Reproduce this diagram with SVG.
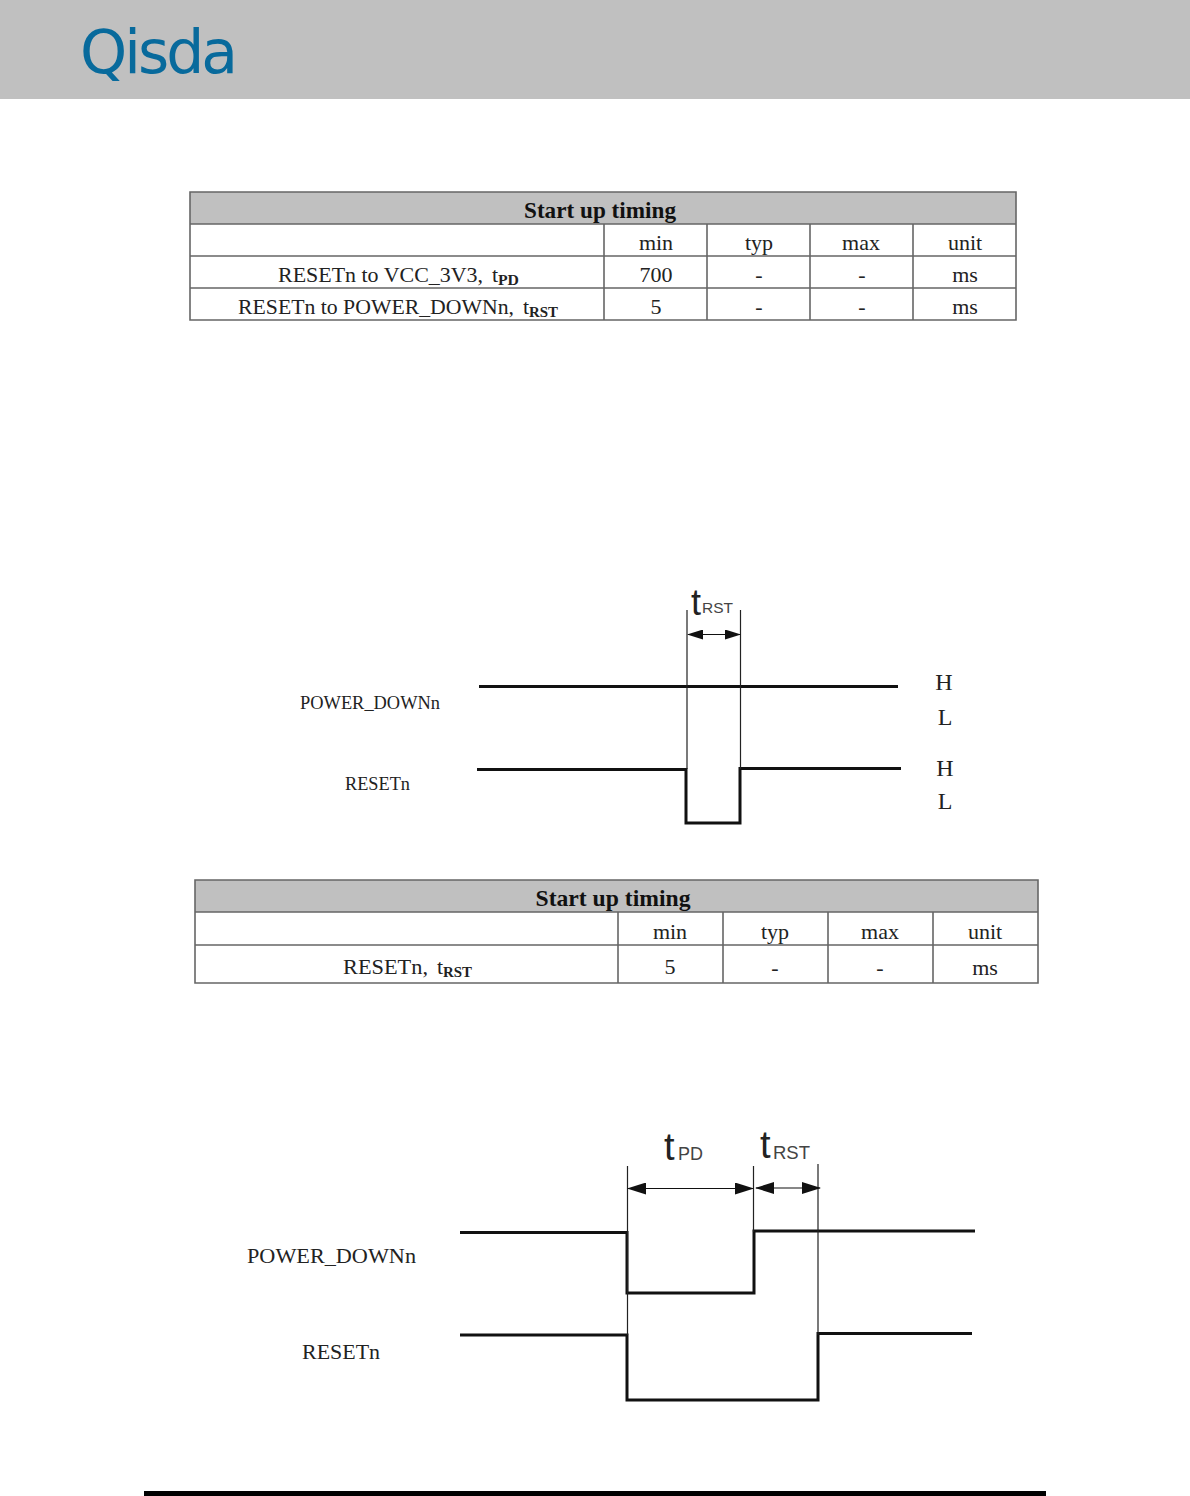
<svg xmlns="http://www.w3.org/2000/svg" width="1190" height="1496" viewBox="0 0 1190 1496">
<style>
text{font-family:"Liberation Serif",serif;fill:#222}
.c{text-anchor:middle}
.t{font-size:22px}
.hd{font-size:23px;font-weight:bold;fill:#111}
.sub{font-size:14px;font-weight:bold}
.sig{font-size:19px}
.hl{font-size:24px;text-anchor:middle}
.grid{fill:none;stroke:#666;stroke-width:1.6}
.head{fill:#c0c0c0}
.wave{fill:none;stroke:#111;stroke-width:3}
.thin{fill:none;stroke:#222;stroke-width:1.2}
.dim{fill:none;stroke:#111;stroke-width:1.2;marker-start:url(#a);marker-end:url(#a)}
.dim2{fill:none;stroke:#111;stroke-width:1.2;marker-start:url(#b);marker-end:url(#b)}
.tm{font-family:"Liberation Sans",sans-serif;font-size:36px;fill:#222}
.tm2{font-family:"Liberation Sans",sans-serif;font-size:15px;fill:#444}
</style>
<defs>
<marker id="a" viewBox="0 0 16 10" refX="15" refY="5" markerWidth="16" markerHeight="10" markerUnits="userSpaceOnUse" orient="auto-start-reverse"><path d="M0 0L16 5L0 10Z" fill="#111"/></marker>
<marker id="b" viewBox="0 0 19 12" refX="18" refY="6" markerWidth="19" markerHeight="12" markerUnits="userSpaceOnUse" orient="auto-start-reverse"><path d="M0 0L19 6L0 12Z" fill="#111"/></marker>
</defs>
<rect width="1190" height="1496" fill="#fff"/>
<g id="header">
<rect width="1190" height="99" fill="#c0c0c0"/>
<text x="80" y="73" font-size="60" textLength="158" lengthAdjust="spacing" style="font-family:'DejaVu Sans',sans-serif;fill:#086a9c">Qisda</text>
</g>
<g id="table1">
<rect class="head" x="190" y="192" width="826" height="32"/>
<path class="grid" d="M190 192H1016V320H190ZM190 224H1016M190 256H1016M190 288H1016M604 224V320M707 224V320M810 224V320M913 224V320"/>
<text class="c hd" x="600" y="218" textLength="152" lengthAdjust="spacingAndGlyphs">Start up timing</text>
<text class="c t" x="656" y="250">min</text><text class="c t" x="759" y="250">typ</text><text class="c t" x="861" y="250">max</text><text class="c t" x="965" y="250">unit</text>
<text class="t" x="278" y="282" textLength="205" lengthAdjust="spacingAndGlyphs">RESETn to VCC_3V3,</text><text class="t" x="492" y="282">t</text><text class="sub" x="498" y="285" textLength="21" lengthAdjust="spacingAndGlyphs">PD</text>
<text class="c t" x="656" y="282">700</text><text class="c t" x="759" y="282">-</text><text class="c t" x="862" y="282">-</text><text class="c t" x="965" y="282">ms</text>
<text class="t" x="238" y="314" textLength="276" lengthAdjust="spacingAndGlyphs">RESETn to POWER_DOWNn,</text><text class="t" x="523" y="314">t</text><text class="sub" x="529" y="317" textLength="29" lengthAdjust="spacingAndGlyphs">RST</text>
<text class="c t" x="656" y="314">5</text><text class="c t" x="759" y="314">-</text><text class="c t" x="862" y="314">-</text><text class="c t" x="965" y="314">ms</text>
</g>
<g id="timing1-labels">
<text class="sig" x="300" y="709" textLength="140" lengthAdjust="spacingAndGlyphs">POWER_DOWNn</text>
<text class="sig" x="345" y="790" textLength="65" lengthAdjust="spacingAndGlyphs">RESETn</text>
<text class="hl" x="944" y="690">H</text><text class="hl" x="945" y="725">L</text>
<text class="hl" x="945" y="776">H</text><text class="hl" x="945" y="809">L</text>
<text class="tm" x="691" y="615">t</text><text class="tm2" x="702" y="613" textLength="31" lengthAdjust="spacingAndGlyphs">RST</text>
</g>
<g id="timing2-labels">
<text class="t" x="247" y="1263" textLength="169" lengthAdjust="spacingAndGlyphs">POWER_DOWNn</text>
<text class="t" x="302" y="1359" textLength="78" lengthAdjust="spacingAndGlyphs">RESETn</text>
<text class="tm" x="664" y="1160" style="font-size:38px">t</text><text class="tm2" x="678" y="1160" textLength="25" lengthAdjust="spacingAndGlyphs" style="font-size:19px">PD</text>
<text class="tm" x="760" y="1158" style="font-size:38px">t</text><text class="tm2" x="773" y="1159" textLength="37" lengthAdjust="spacingAndGlyphs" style="font-size:19px">RST</text>
</g>
<g id="connectors">
<path class="wave" d="M479 686.500H898"/>
<path class="wave" d="M477 769.500H686V823H740V768.500H901"/>
<path class="thin" d="M687 610V769M740.500 610V769"/>
<path class="dim" d="M688 634.500H740"/>
<path class="wave" d="M460 1232.500H627V1293H754V1231H975"/>
<path class="wave" d="M460 1335H627V1400H818V1333.500H972"/>
<path class="thin" d="M627.500 1166V1335M753.500 1166V1232M818 1164V1335"/>
<path class="dim2" d="M628 1188.500H753"/>
<path class="dim2" d="M756 1188H820"/>
</g>
<g id="table2">
<rect class="head" x="195" y="880" width="843" height="32"/>
<path class="grid" d="M195 880H1038V983H195ZM195 912H1038M195 945H1038M618 912V983M723 912V983M828 912V983M933 912V983"/>
<text class="c hd" x="613" y="906" textLength="155" lengthAdjust="spacingAndGlyphs">Start up timing</text>
<text class="c t" x="670" y="939">min</text><text class="c t" x="775" y="939">typ</text><text class="c t" x="880" y="939">max</text><text class="c t" x="985" y="939">unit</text>
<text class="t" x="343" y="974" textLength="85" lengthAdjust="spacingAndGlyphs">RESETn,</text><text class="t" x="437" y="974">t</text><text class="sub" x="443" y="977" textLength="29" lengthAdjust="spacingAndGlyphs">RST</text>
<text class="c t" x="670" y="974">5</text><text class="c t" x="775" y="975">-</text><text class="c t" x="880" y="975">-</text><text class="c t" x="985" y="975">ms</text>
</g>
<g id="footer"><rect x="144" y="1491" width="902" height="5" fill="#000"/></g>
</svg>
